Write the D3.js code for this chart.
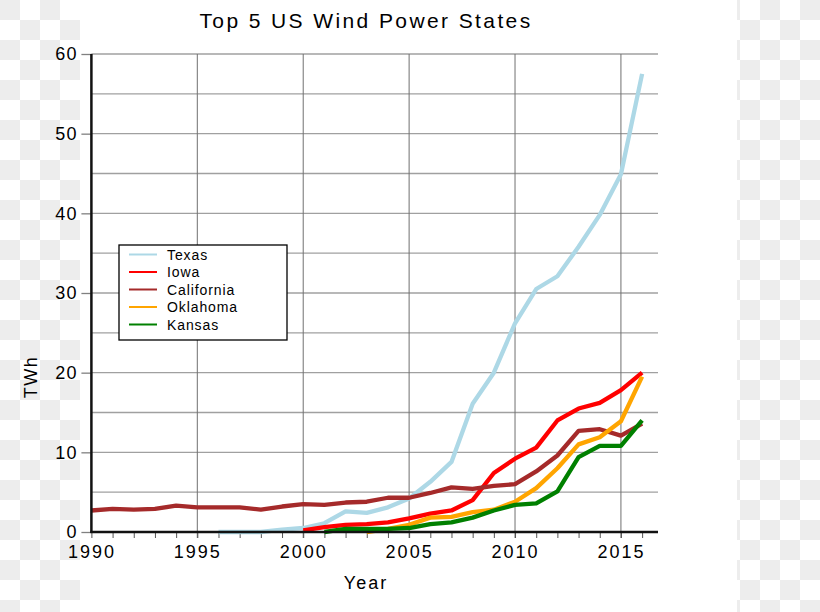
<!DOCTYPE html>
<html>
<head>
<meta charset="utf-8">
<script src="https://cdn.jsdelivr.net/npm/d3@7"></script>
<style>
  html, body { margin: 0; padding: 0; background: #fff; }
  svg { display: block; }
  text { font-family: "Liberation Sans", Arial, sans-serif; fill: #000; }
</style>
</head>
<body>
<svg id="chart" width="820" height="612"></svg>
<script>
// ---- data ----
const title = "Top 5 US Wind Power States";
const xLabel = "Year";
const yLabel = "TWh";
const xTicks = [1990, 1995, 2000, 2005, 2010, 2015];
const yTicks = [0, 10, 20, 30, 40, 50, 60];

const texasYears = [1996,1997,1998,1999,2000,2001,2002,2003,2004,2005,2006,2007,2008,2009,2010,2011,2012,2013,2014,2015,2016];
const texasValues = [0,0,0,0.3,0.5,1.1,2.6,2.4,3.1,4.2,6.3,8.8,16.1,20.0,26.2,30.5,32.1,35.8,39.8,44.9,57.5];

const iowaYears = [2000,2001,2002,2003,2004,2005,2006,2007,2008,2009,2010,2011,2012,2013,2014,2015,2016];
const iowaValues = [0.2,0.6,0.9,1.0,1.2,1.7,2.3,2.7,4.0,7.4,9.2,10.6,14.0,15.5,16.2,17.8,20.0];

const californiaYears = [1990,1991,1992,1993,1994,1995,1996,1997,1998,1999,2000,2001,2002,2003,2004,2005,2006,2007,2008,2009,2010,2011,2012,2013,2014,2015,2016];
const californiaValues = [2.7,2.9,2.8,2.9,3.3,3.1,3.1,3.1,2.8,3.2,3.5,3.4,3.7,3.8,4.3,4.3,4.9,5.6,5.4,5.8,6.0,7.6,9.6,12.7,12.9,12.1,13.6];

const oklahomaYears = [2003,2004,2005,2006,2007,2008,2009,2010,2011,2012,2013,2014,2015,2016];
const oklahomaValues = [0,0.4,0.9,1.8,1.9,2.5,2.8,3.8,5.5,8.0,11.0,11.9,13.9,19.5];

const kansasYears = [2001,2002,2003,2004,2005,2006,2007,2008,2009,2010,2011,2012,2013,2014,2015,2016];
const kansasValues = [0,0.4,0.4,0.4,0.5,1.0,1.2,1.8,2.7,3.4,3.6,5.1,9.4,10.8,10.8,14.0];

const seriesNames = ["Texas", "Iowa", "California", "Oklahoma", "Kansas"];
const seriesColors = ["#add8e6", "#ff0000", "#a52a2a", "#ffa500", "#008000"];
const seriesYears = [texasYears, iowaYears, californiaYears, oklahomaYears, kansasYears];
const seriesValues = [texasValues, iowaValues, californiaValues, oklahomaValues, kansasValues];

// ---- drawing ----
(function () {
const svg = d3.select("#chart");
const W = 820, H = 612;

// checkerboard background margins (transparency pattern)
const bg = svg.append("g");
const sq = 20;
function checker(x0, x1) {
  for (let r = 0; r * sq < H; r++) {
    for (let c = Math.floor(x0 / sq); c * sq < x1; c++) {
      if ((r + c) % 2 === 0) {
        const xa = Math.max(c * sq, x0), xb = Math.min(c * sq + sq, x1);
        bg.append("rect").attr("x", xa).attr("y", r * sq)
          .attr("width", xb - xa).attr("height", sq).attr("fill", "#ededed");
      }
    }
  }
}
checker(0, 80);
checker(737, 820);

const pLeft = 91.4, pRight = 658, pTop = 54, pBottom = 532;
const x = d3.scaleLinear().domain([1990, 2016.75]).range([pLeft, pRight]);
const y = d3.scaleLinear().domain([0, 60]).range([pBottom, pTop]);

// horizontal grid every 5
const gH = svg.append("g");
gH.selectAll("line").data(d3.range(5, 61, 5)).join("line")
  .attr("x1", pLeft).attr("x2", pRight)
  .attr("y1", d => y(d)).attr("y2", d => y(d))
  .attr("stroke", "#a0a0a0").attr("stroke-width", 1.3);

// vertical grid
const gV = svg.append("g");
gV.selectAll("line").data(xTicks.filter(d => d > 1990)).join("line")
  .attr("x1", d => x(d)).attr("x2", d => x(d))
  .attr("y1", pTop).attr("y2", pBottom + 6)
  .attr("stroke", "#707070").attr("stroke-width", 1);

// x axis: minor ticks every year
const xAxis = d3.axisBottom(x).tickValues(d3.range(1990, 2017)).tickSize(6).tickFormat("");
const gx = svg.append("g").attr("transform", `translate(0,${pBottom})`).call(xAxis);
gx.select(".domain").remove();
gx.selectAll(".tick line").attr("stroke", "#555").attr("stroke-width", 1);
const xLab = d3.axisBottom(x).tickValues(xTicks).tickSize(0).tickPadding(13).tickFormat(d3.format("d"));
const gx2 = svg.append("g").attr("transform", `translate(0,${pBottom})`).call(xLab);
gx2.select(".domain").remove();
gx2.selectAll("text").attr("font-size", 18).attr("letter-spacing", "2px")
  .style("font-family", "'Liberation Sans', Arial, sans-serif").attr("fill", "#000");

// y axis
const yAxis = d3.axisLeft(y).tickValues(yTicks).tickSize(10).tickPadding(4).tickFormat(d3.format("d"));
const gy = svg.append("g").attr("transform", `translate(${pLeft},0)`).call(yAxis);
gy.select(".domain").remove();
gy.selectAll(".tick line").attr("stroke", "#808080").attr("stroke-width", 1.3);
gy.selectAll("text").attr("font-size", 18).attr("letter-spacing", "1px")
  .style("font-family", "'Liberation Sans', Arial, sans-serif").attr("fill", "#000");

// series lines
const line = d3.line().x(d => x(d[0])).y(d => y(d[1]));
const gL = svg.append("g");
seriesNames.forEach((name, i) => {
  const pts = seriesYears[i].map((yr, j) => [yr, seriesValues[i][j]]);
  gL.append("path").datum(pts)
    .attr("d", line)
    .attr("fill", "none")
    .attr("stroke", seriesColors[i])
    .attr("stroke-width", 4.3)
    .attr("stroke-linejoin", "round");
});

// axis lines
svg.append("line").attr("x1", pLeft).attr("x2", pLeft).attr("y1", pTop).attr("y2", pBottom + 1)
  .attr("stroke", "#111").attr("stroke-width", 2.5);
svg.append("line").attr("x1", pLeft - 1).attr("x2", pRight).attr("y1", pBottom).attr("y2", pBottom)
  .attr("stroke", "#111").attr("stroke-width", 2.5);

// title
svg.append("text").attr("x", 366).attr("y", 28).attr("text-anchor", "middle")
  .attr("font-size", 21).attr("letter-spacing", "2.4px").text(title);

// axis titles
svg.append("text").attr("x", 366).attr("y", 589).attr("text-anchor", "middle")
  .attr("font-size", 18).attr("letter-spacing", "2px").text(xLabel);
svg.append("text").attr("transform", "translate(37,377) rotate(-90)").attr("text-anchor", "middle")
  .attr("font-size", 18).attr("letter-spacing", "1.5px").text(yLabel);

// legend
const lg = svg.append("g").attr("transform", "translate(119,245)");
lg.append("rect").attr("x", 0).attr("y", 0).attr("width", 168).attr("height", 95)
  .attr("fill", "#fff").attr("stroke", "#000").attr("stroke-width", 1.3);
seriesNames.forEach((name, i) => {
  const cy = 9.5 + i * 17.5;
  lg.append("line").attr("x1", 10).attr("x2", 38).attr("y1", cy).attr("y2", cy)
    .attr("stroke", seriesColors[i]).attr("stroke-width", 2);
  lg.append("text").attr("x", 48).attr("y", cy + 5)
    .attr("font-size", 14).attr("letter-spacing", "0.9px").text(name);
});
})();
</script>
</body>
</html>
